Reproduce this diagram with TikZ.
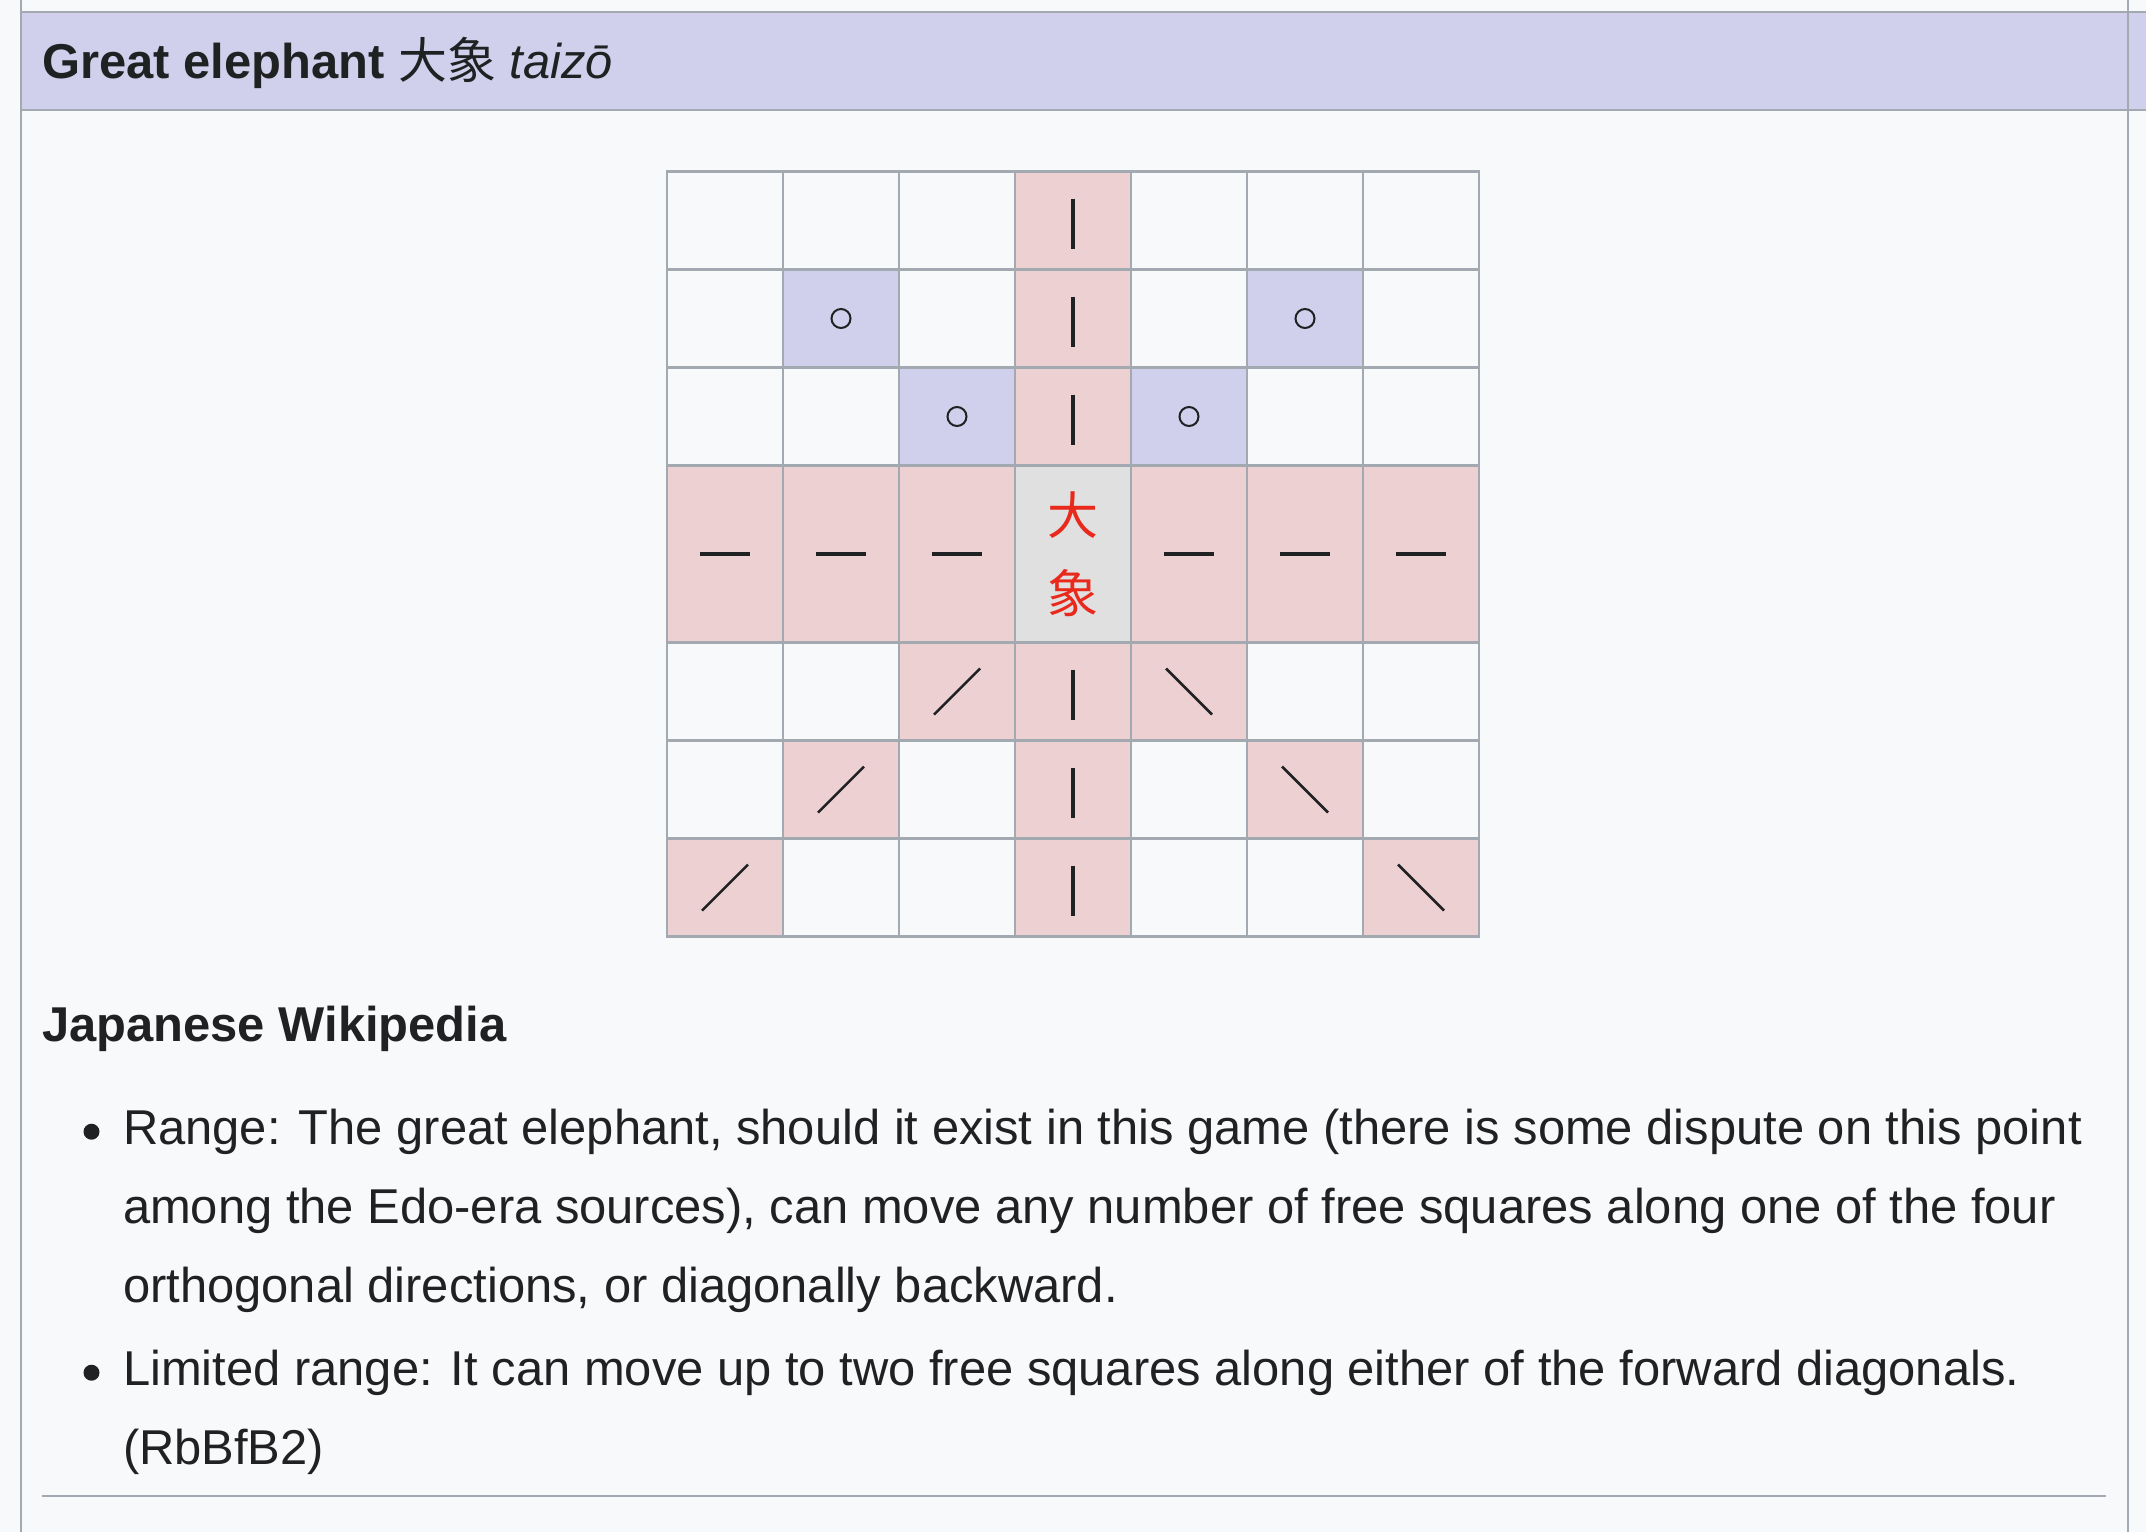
\documentclass[tikz,border=0pt]{standalone}
\usepackage{fontspec}
\setmainfont{Liberation Sans}
\newfontfamily\jpfont{Noto Sans CJK JP}
\usepackage{xcolor}
\definecolor{pagebg}{HTML}{F8F9FA}
\definecolor{rulegray}{HTML}{A2A9B1}
\definecolor{headblue}{HTML}{D0D0EC}
\definecolor{rangepink}{HTML}{ECD0D2}
\definecolor{stepblue}{HTML}{D0D0EC}
\definecolor{homegray}{HTML}{E0E0E0}
\definecolor{kanjired}{HTML}{E8291C}
\definecolor{inkblack}{HTML}{202122}

\begin{document}
\begin{tikzpicture}[x=1pt, y=-1pt,
    rule/.style={draw=rulegray, line width=2.5pt},
    cell/.style={rectangle, draw=rulegray, line width=2.5pt, minimum width=116pt, inner sep=0pt, outer sep=0pt},
    emptysq/.style={fill=pagebg},
    homesq/.style={fill=homegray},
    slidev/.style={fill=rangepink, path picture={\draw[inkblack, line width=4pt] (path picture bounding box.center) ++(0,-22) -- ++(0,50);}},
    slideh/.style={fill=rangepink, path picture={\draw[inkblack, line width=4pt] (path picture bounding box.center) ++(-25,0) -- ++(50,0);}},
    slidefwd/.style={fill=rangepink, path picture={\draw[inkblack, line width=2.5pt] (path picture bounding box.center) ++(-23,23) -- ++(46,-46);}},
    slideback/.style={fill=rangepink, path picture={\draw[inkblack, line width=2.5pt] (path picture bounding box.center) ++(-23,-23) -- ++(46,46);}},
    stepsq/.style={fill=stepblue, path picture={\draw[inkblack, line width=2pt] (path picture bounding box.center) circle[radius=9.5];}},
    kanji/.style={font=\jpfont\fontsize{51}{77.5}\selectfont, text=kanjired, align=center, inner sep=0pt},
    body/.style={font=\fontsize{48.9}{79}\selectfont, text=inkblack, inner sep=0pt, anchor=base west, align=left},
    bulletdot/.style={circle, fill=inkblack, minimum size=16pt, inner sep=0pt}
  ]
    % Page and frame
    \useasboundingbox (0,0) rectangle (2146,1532);
    \fill[pagebg] (0,0) rectangle (2146,1532);
    \fill[headblue] (21,12) rectangle (2146,110);
    \draw[rule] (21,12) -- (2146,12);
    \draw[rule] (21,110) -- (2146,110);
    \draw[rule] (21,0) -- (21,1532);
    \draw[rule] (2128,0) -- (2128,1532);

    % Header
    \node[body] (title) at (42,78) {\bfseries Great elephant {\jpfont\mdseries 大象} \mdseries\itshape taizō};

    % Board
    \foreach \yc/\ht/\kinds [count=\r] in {
        220.5/98/{emptysq,emptysq,emptysq,slidev,emptysq,emptysq,emptysq},
        318.5/98/{emptysq,stepsq,emptysq,slidev,emptysq,stepsq,emptysq},
        416.5/98/{emptysq,emptysq,stepsq,slidev,stepsq,emptysq,emptysq},
        554/177/{slideh,slideh,slideh,homesq,slideh,slideh,slideh},
        691.5/98/{emptysq,emptysq,slidefwd,slidev,slideback,emptysq,emptysq},
        789.5/98/{emptysq,slidefwd,emptysq,slidev,emptysq,slideback,emptysq},
        887.5/98/{slidefwd,emptysq,emptysq,slidev,emptysq,emptysq,slideback}}{
      \foreach \k [count=\c] in \kinds {
        \node[cell, minimum height=\ht pt, \k] (sq-\r-\c) at ({609+116*\c},\yc) {};
      }
    }
    \node[kanji] (piece) at (sq-4-4) {大\\象};

    % Notes (base = last line)
    \node[body, font=\bfseries\fontsize{48.9}{79}\selectfont] (source) at (42,1041.7) {Japanese Wikipedia};
    \node[body] (range) at (122.8,1302) {Range: The great elephant, should it exist in this game (there is some dispute on this point\\among the Edo-era sources), can move any number of free squares along one of the four\\orthogonal directions, or diagonally backward.};
    \node[body] (limited) at (122.8,1464) {Limited range: It can move up to two free squares along either of the forward diagonals.\\(RbBfB2)};
    \node[bulletdot] (dot1) at (91.5,1131.7) {};
    \node[bulletdot] (dot2) at (91.5,1372.7) {};
    \draw[rule] (42,1496) -- (2106,1496);
\end{tikzpicture}
\end{document}
